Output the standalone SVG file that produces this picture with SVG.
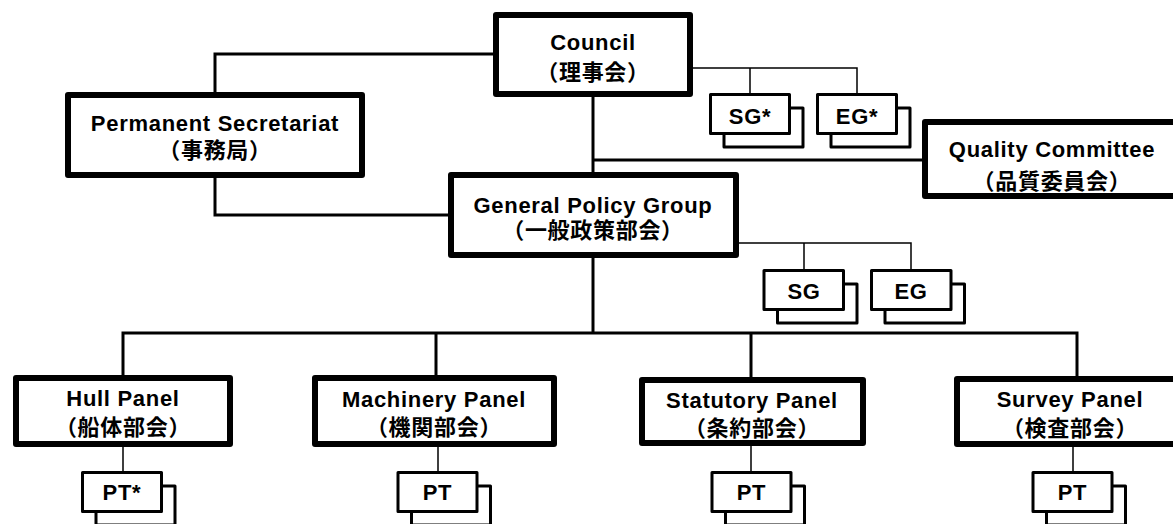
<svg xmlns="http://www.w3.org/2000/svg" width="1173" height="524" viewBox="0 0 1173 524">
<style>
.main{fill:#fff;stroke:#000;stroke-width:6;stroke-linejoin:round}
.sub{fill:#fff;stroke:#000;stroke-width:3;stroke-linejoin:round}
.conn{fill:none;stroke:#000;stroke-width:3}
.thin{fill:none;stroke:#000;stroke-width:1.5}
text{font-family:"Liberation Sans","Noto Sans CJK JP",sans-serif;font-weight:bold;font-size:22px;letter-spacing:0.7px;text-anchor:middle;fill:#000}
</style>
<rect width="1173" height="524" fill="#fff"/>
<g id="connectors">
<path class="conn" d="M493,54 H215 V92"/>
<path class="conn" d="M215,178 V215 H448"/>
<path class="conn" d="M593,97 V172"/>
<path class="conn" d="M593,160 H922"/>
<path class="thin" d="M693,68 H857 V93 M750,68 V93"/>
<path class="thin" d="M739,243 H911 V269 M804,243 V269"/>
<path class="conn" d="M593,258 V333"/>
<path class="conn" d="M123,375 V333 H1077 V376 M436,333 V375 M751,333 V377"/>
<path class="thin" d="M123,447 V471 M438,447 V471 M751,446 V471 M1073,447 V471"/>
</g>
<g id="council">
<rect class="main" x="496" y="15" width="194" height="79"/>
<text x="593" y="50">Council</text>
<text x="593" y="80">（理事会）</text>
</g>
<g id="secretariat">
<rect class="main" x="68" y="95" width="294" height="80"/>
<text x="215" y="131">Permanent Secretariat</text>
<text x="215" y="158">（事務局）</text>
</g>
<g id="sg-star">
<rect class="sub" x="724" y="108" width="79" height="39"/>
<rect class="sub" x="710.5" y="94.5" width="79" height="39"/>
<text x="750" y="124">SG*</text>
</g>
<g id="eg-star">
<rect class="sub" x="831" y="108" width="79" height="39"/>
<rect class="sub" x="817.5" y="94.5" width="79" height="39"/>
<text x="857" y="124">EG*</text>
</g>
<g id="quality">
<rect class="main" x="925" y="122" width="262" height="74"/>
<text x="1052" y="157">Quality Committee</text>
<text x="1052" y="189">（品質委員会）</text>
</g>
<g id="gpg">
<rect class="main" x="451" y="175" width="285" height="80"/>
<text x="593" y="213">General Policy Group</text>
<text x="593" y="238">（一般政策部会）</text>
</g>
<g id="sg">
<rect class="sub" x="777.5" y="284" width="79.5" height="39"/>
<rect class="sub" x="764" y="270.5" width="79.5" height="39"/>
<text x="804" y="299">SG</text>
</g>
<g id="eg">
<rect class="sub" x="885" y="284" width="79.5" height="39"/>
<rect class="sub" x="871.5" y="270.5" width="79.5" height="39"/>
<text x="911" y="299">EG</text>
</g>
<g id="hull">
<rect class="main" x="16" y="378" width="214" height="66"/>
<text x="123" y="406">Hull Panel</text>
<text x="123" y="435">（船体部会）</text>
</g>
<g id="machinery">
<rect class="main" x="315" y="378" width="239" height="66"/>
<text x="434" y="407">Machinery Panel</text>
<text x="434" y="435">（機関部会）</text>
</g>
<g id="statutory">
<rect class="main" x="642" y="380" width="221" height="63"/>
<text x="752" y="408">Statutory Panel</text>
<text x="752" y="436">（条約部会）</text>
</g>
<g id="survey">
<rect class="main" x="957" y="379" width="260" height="65"/>
<text x="1070" y="407">Survey Panel</text>
<text x="1070" y="436">（検査部会）</text>
</g>
<g id="pt-hull">
<rect class="sub" x="96" y="486" width="79" height="39"/>
<rect class="sub" x="82.5" y="472.5" width="79" height="39"/>
<text x="122" y="500">PT*</text>
</g>
<g id="pt-machinery">
<rect class="sub" x="411.5" y="486" width="79" height="39"/>
<rect class="sub" x="398" y="472.5" width="79" height="39"/>
<text x="437.5" y="500">PT</text>
</g>
<g id="pt-statutory">
<rect class="sub" x="725.5" y="486" width="79" height="39"/>
<rect class="sub" x="712" y="472.5" width="79" height="39"/>
<text x="751.5" y="500">PT</text>
</g>
<g id="pt-survey">
<rect class="sub" x="1046.5" y="486" width="79" height="39"/>
<rect class="sub" x="1033" y="472.5" width="79" height="39"/>
<text x="1072.5" y="500">PT</text>
</g>
</svg>
